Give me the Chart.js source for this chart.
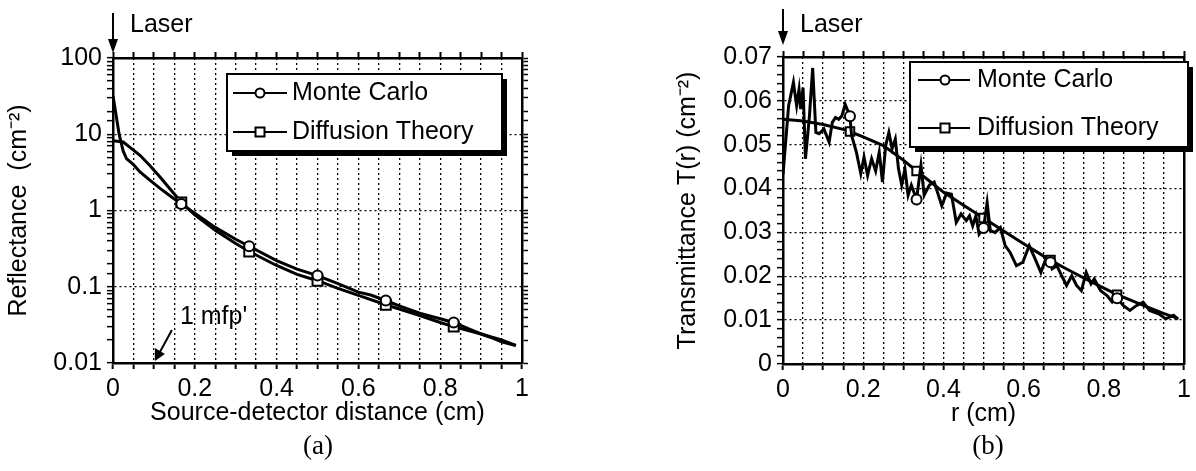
<!DOCTYPE html>
<html>
<head>
<meta charset="utf-8">
<script src="https://cdn.jsdelivr.net/npm/chart.js@4/dist/chart.umd.min.js"></script>
<style>
body { margin: 0; background: #fff; }
#wrap { position: relative; width: 1196px; height: 471px; background: #fff; }
canvas { position: absolute; top: 0; }
.cap { position: absolute; top: 430px; width: 80px; text-align: center; font: 27px "Liberation Serif", "DejaVu Serif", serif; color: #000; }
</style>
</head>
<body>
<div id="wrap">
  <canvas id="chartA" width="598" height="471" style="left:0"></canvas>
  <canvas id="chartB" width="598" height="471" style="left:598px"></canvas>
  <div class="cap" style="left:278px">(a)</div>
  <div class="cap" style="left:948px">(b)</div>
</div>
<script>
// (a) reflectance, log scale
const xLeftMC = [0, 0.015, 0.025, 0.033, 0.05, 0.066, 0.09, 0.115, 0.14, 0.167, 0.2, 0.25, 0.3, 0.333, 0.4, 0.45, 0.5, 0.55, 0.6, 0.63, 0.667, 0.7, 0.75, 0.77, 0.8, 0.833, 0.87, 0.9, 0.93, 0.95, 0.985]
const yLeftMC = [32, 10, 6, 4.8, 4.0, 3.2, 2.5, 1.95, 1.55, 1.22, 0.92, 0.6, 0.42, 0.34, 0.22, 0.17, 0.14, 0.11, 0.085, 0.078, 0.066, 0.056, 0.045, 0.042, 0.038, 0.034, 0.028, 0.024, 0.021, 0.019, 0.017]
const xLeftDT = [0, 0.025, 0.05, 0.066, 0.09, 0.115, 0.14, 0.167, 0.2, 0.25, 0.3, 0.333, 0.4, 0.45, 0.5, 0.55, 0.6, 0.667, 0.7, 0.75, 0.8, 0.833, 0.9, 0.95, 0.985]
const yLeftDT = [8.2, 7.9, 6.2, 5.3, 3.9, 2.75, 1.9, 1.28, 0.88, 0.55, 0.37, 0.29, 0.19, 0.145, 0.12, 0.095, 0.077, 0.058, 0.051, 0.042, 0.034, 0.030, 0.024, 0.020, 0.017]

// (b) transmittance, linear scale
const xRightMC = [0, 0.014, 0.026, 0.034, 0.04, 0.044, 0.05, 0.056, 0.066, 0.074, 0.082, 0.09, 0.102, 0.115, 0.123, 0.131, 0.139, 0.147, 0.155, 0.167, 0.171, 0.183, 0.194, 0.202, 0.211, 0.221, 0.231, 0.24, 0.248, 0.256, 0.264, 0.272, 0.28, 0.288, 0.296, 0.304, 0.312, 0.32, 0.333, 0.344, 0.352, 0.365, 0.377, 0.396, 0.408, 0.42, 0.432, 0.444, 0.457, 0.465, 0.473, 0.481, 0.489, 0.5, 0.509, 0.517, 0.529, 0.542, 0.554, 0.566, 0.582, 0.598, 0.614, 0.627, 0.643, 0.655, 0.667, 0.671, 0.683, 0.695, 0.707, 0.72, 0.732, 0.744, 0.756, 0.768, 0.776, 0.792, 0.808, 0.821, 0.833, 0.849, 0.865, 0.881, 0.898, 0.914, 0.938, 0.954, 0.974, 0.985]
const yRightMC = [0.0432, 0.0589, 0.0642, 0.0589, 0.0626, 0.0581, 0.063, 0.0468, 0.0566, 0.0675, 0.0528, 0.0525, 0.0536, 0.0506, 0.0551, 0.0562, 0.0558, 0.0566, 0.0592, 0.0565, 0.0521, 0.0483, 0.0434, 0.0472, 0.043, 0.0468, 0.044, 0.0483, 0.0415, 0.0498, 0.0528, 0.0491, 0.0513, 0.0445, 0.0408, 0.0445, 0.0385, 0.0408, 0.0375, 0.0453, 0.0385, 0.0408, 0.0415, 0.0361, 0.039, 0.0387, 0.0323, 0.0342, 0.0327, 0.0338, 0.0315, 0.0338, 0.0296, 0.031, 0.0368, 0.0304, 0.03, 0.0311, 0.027, 0.0255, 0.0224, 0.0232, 0.027, 0.0243, 0.0209, 0.0239, 0.0232, 0.0217, 0.0224, 0.0201, 0.0179, 0.0201, 0.0179, 0.0167, 0.0209, 0.0183, 0.0194, 0.0167, 0.0156, 0.0141, 0.015, 0.0133, 0.0122, 0.0133, 0.0141, 0.0122, 0.0114, 0.0103, 0.0111, 0.0102]
const xRightDT = [0, 0.05, 0.1, 0.15, 0.167, 0.2, 0.25, 0.3, 0.333, 0.35, 0.4, 0.45, 0.5, 0.55, 0.6, 0.65, 0.667, 0.7, 0.75, 0.8, 0.833, 0.85, 0.9, 0.95, 0.985]
const yRightDT = [0.0558, 0.0554, 0.0546, 0.0535, 0.053, 0.0518, 0.0498, 0.0465, 0.044, 0.0428, 0.0392, 0.0362, 0.0333, 0.0303, 0.0274, 0.0246, 0.0237, 0.022, 0.0196, 0.0173, 0.0158, 0.0152, 0.0133, 0.0115, 0.0104]

const markerX = [0.167, 0.333, 0.5, 0.667, 0.833]
const seriesNames = ['Monte Carlo', 'Diffusion Theory']

const FONT = '"Liberation Sans", Arial, Helvetica, sans-serif'
const FS = 25

function pts(xs, ys) {
    return xs.map((x, i) => ({x: x, y: ys[i]}))
}

function near(v, step) {
    return Math.abs(v / step - Math.round(v / step)) < 1e-6
}

function isDecade(v) {
    const l = Math.log10(v)
    return Math.abs(l - Math.round(l)) < 1e-6
}

function dataSet(label, xs, ys, style, r) {
    return {
        label: label,
        data: pts(xs, ys),
        borderColor: '#000',
        borderWidth: 3,
        tension: 0,
        pointStyle: style,
        pointRadius: c => markerX.includes(c.raw.x) ? r : 0,
        pointBackgroundColor: '#fff',
        pointBorderColor: '#000',
        pointBorderWidth: 2,
        pointHoverRadius: 0
    }
}

function fixW(w) { return s => { s.width = w } }
function fixH(h) { return s => { s.height = h } }

const decor = {
    id: 'decor',
    afterDraw(chart, args, o) {
        const ctx = chart.ctx, a = chart.chartArea, xs = chart.scales.x
        ctx.save()
        ctx.strokeStyle = '#000'
        ctx.fillStyle = '#000'
        ctx.font = FS + 'px ' + FONT
        ctx.textBaseline = 'middle'
        ctx.textAlign = 'left'

        // laser arrow
        const lx = xs.getPixelForValue(0)
        const tip = a.top - o.laserTip
        ctx.lineWidth = 2
        ctx.beginPath()
        ctx.moveTo(lx, a.top - o.laserTop)
        ctx.lineTo(lx, tip - 10)
        ctx.stroke()
        ctx.beginPath()
        ctx.moveTo(lx - 5, tip - 14)
        ctx.lineTo(lx + 5, tip - 14)
        ctx.lineTo(lx, tip)
        ctx.closePath()
        ctx.fill()
        ctx.fillText('Laser', lx + 17, a.top - o.laserText)

        // 1 mfp' marker
        if (o.mfp) {
            const mx = xs.getPixelForValue(0.1)
            ctx.fillText("1 mfp'", mx + 26, a.bottom - 46)
            ctx.lineWidth = 2
            ctx.beginPath()
            ctx.moveTo(mx + 18, a.bottom - 33)
            ctx.lineTo(mx + 6, a.bottom - 11)
            ctx.stroke()
            ctx.beginPath()
            ctx.moveTo(mx + 1, a.bottom - 2)
            ctx.lineTo(mx + 1, a.bottom - 15)
            ctx.lineTo(mx + 11, a.bottom - 9)
            ctx.closePath()
            ctx.fill()
        }

        // legend box with shadow
        const b = o.box
        const bx = a.left + b.dx, by = a.top + b.dy
        ctx.fillRect(bx + 5, by + 5, b.w, b.h)
        ctx.fillStyle = '#fff'
        ctx.fillRect(bx, by, b.w, b.h)
        ctx.lineWidth = 2
        ctx.strokeRect(bx, by, b.w, b.h)
        chart.data.datasets.forEach((ds, i) => {
            const y = by + b.rows[i]
            ctx.strokeStyle = '#000'
            ctx.lineWidth = 2
            ctx.beginPath()
            ctx.moveTo(bx + b.l0, y)
            ctx.lineTo(bx + b.l1, y)
            ctx.stroke()
            ctx.fillStyle = '#fff'
            ctx.beginPath()
            if (ds.pointStyle === 'rect') {
                ctx.rect(bx + b.m - 4.5, y - 4.5, 9, 9)
            } else {
                ctx.arc(bx + b.m, y, 4.5, 0, Math.PI * 2)
            }
            ctx.fill()
            ctx.stroke()
            ctx.fillStyle = '#000'
            ctx.fillText(ds.label, bx + b.t, y)
        })
        ctx.restore()
    }
}

function xScales(h1, h2) {
    const common = {
        type: 'linear',
        min: 0,
        max: 1,
        border: {color: '#000', width: 2.5, dash: [2, 3]},
        grid: {color: '#000', lineWidth: 1.3, tickColor: '#000', tickLength: 6, tickWidth: 2}
    }
    return {
        x: Object.assign({}, common, {
            position: 'bottom',
            afterFit: fixH(h1),
            ticks: {
                stepSize: 0.05, autoSkip: false, maxRotation: 0, padding: 5, color: '#000',
                font: {family: FONT, size: FS},
                callback: v => near(v, 0.2) ? String(+v.toFixed(1)) : ''
            }
        }),
        x2: Object.assign({}, common, {
            position: 'top',
            afterFit: fixH(h2),
            grid: {drawOnChartArea: false, tickColor: '#000', tickLength: 6, tickWidth: 2},
            ticks: {stepSize: 0.05, autoSkip: false, display: false}
        })
    }
}

const titleFont = {family: FONT, size: FS}

const cfgA = {
    type: 'line',
    data: {datasets: [
        dataSet(seriesNames[0], xLeftMC, yLeftMC, 'circle', 5),
        dataSet(seriesNames[1], xLeftDT, yLeftDT, 'rect', 7)
    ]},
    options: {
        responsive: false,
        animation: false,
        devicePixelRatio: 1,
        layout: {padding: {left: 0, right: 0, top: 0, bottom: 39}},
        plugins: {
            legend: {display: false},
            tooltip: {enabled: false},
            decor: {
                laserTop: 45, laserTip: 5, laserText: 33, mfp: true,
                box: {dx: 114, dy: 16, w: 275, h: 77, rows: [19, 58], l0: 6, l1: 60, m: 33, t: 65}
            }
        },
        scales: Object.assign(xScales(69, 58), {
            y: {
                type: 'logarithmic',
                position: 'left',
                min: 0.01,
                max: 100,
                afterFit: fixW(113),
                border: {color: '#000', width: 2.5, dash: [2, 3]},
                grid: {
                    color: c => (c.tick && isDecade(c.tick.value)) ? '#000' : 'rgba(0,0,0,0)',
                    lineWidth: 1.3, tickColor: '#000', tickLength: 6, tickWidth: 1.5
                },
                ticks: {
                    autoSkip: false, padding: 5, color: '#000',
                    font: {family: FONT, size: FS},
                    callback: v => isDecade(v) ? String(v) : ''
                },
                title: {display: true, text: 'Reflectance  (cm\u207B\u00B2)', color: '#000', font: titleFont}
            },
            y2: {
                type: 'logarithmic',
                position: 'right',
                min: 0.01,
                max: 100,
                afterFit: fixW(76),
                border: {color: '#000', width: 2.5},
                grid: {drawOnChartArea: false, tickColor: '#000', tickLength: 6, tickWidth: 1.5},
                ticks: {autoSkip: false, display: false}
            }
        })
    },
    plugins: [decor]
}
cfgA.options.scales.x.title = {display: true, text: 'Source-detector distance (cm)', color: '#000', font: titleFont}

const cfgB = {
    type: 'line',
    data: {datasets: [
        dataSet(seriesNames[0], xRightMC, yRightMC, 'circle', 5),
        dataSet(seriesNames[1], xRightDT, yRightDT, 'rect', 6)
    ]},
    options: {
        responsive: false,
        animation: false,
        devicePixelRatio: 1,
        layout: {padding: {left: 71, right: 0, top: 0, bottom: 38}},
        plugins: {
            legend: {display: false},
            tooltip: {enabled: false},
            decor: {
                laserTop: 48, laserTip: 12, laserText: 32, mfp: false,
                box: {dx: 127, dy: 5, w: 278, h: 85, rows: [18, 66], l0: 8, l1: 60, m: 35, t: 67}
            }
        },
        scales: Object.assign(xScales(69, 57), {
            y: {
                type: 'linear',
                position: 'left',
                min: 0,
                max: 0.07,
                afterFit: fixW(114),
                border: {color: '#000', width: 2.5, dash: [2, 3]},
                grid: {
                    color: c => (c.tick && near(c.tick.value, 0.01)) ? '#000' : 'rgba(0,0,0,0)',
                    lineWidth: 1.3, tickColor: '#000', tickLength: 6, tickWidth: 1.5
                },
                ticks: {
                    stepSize: 0.002, autoSkip: false, padding: 5, color: '#000',
                    font: {family: FONT, size: FS},
                    callback: v => near(v, 0.01) ? (Math.abs(v) < 1e-9 ? '0' : v.toFixed(2)) : ''
                },
                title: {display: true, text: 'Transmittance T(r) (cm\u207B\u00B2)', color: '#000', font: titleFont}
            },
            y2: {
                type: 'linear',
                position: 'right',
                min: 0,
                max: 0.07,
                afterFit: fixW(2),
                border: {color: '#000', width: 2.5},
                grid: {drawOnChartArea: false, drawTicks: false},
                ticks: {stepSize: 0.01, display: false}
            }
        })
    },
    plugins: [decor]
}
cfgB.options.scales.x.title = {display: true, text: 'r (cm)', color: '#000', font: titleFont}

new Chart(document.getElementById('chartA').getContext('2d'), cfgA)
new Chart(document.getElementById('chartB').getContext('2d'), cfgB)
</script>
</body>
</html>
